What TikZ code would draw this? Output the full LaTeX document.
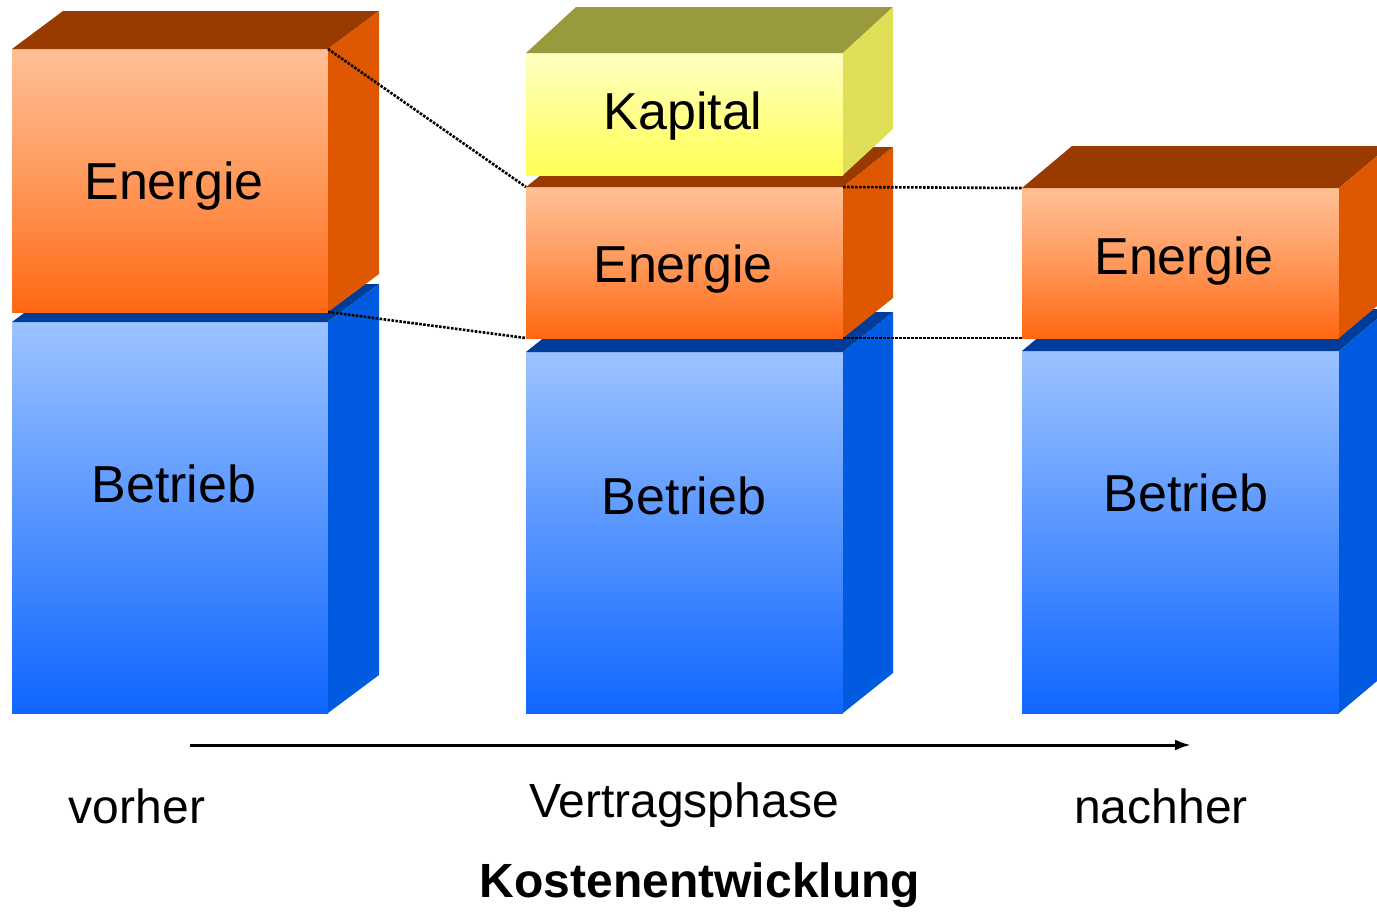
\documentclass[tikz,border=0pt]{standalone}
\usepackage{fontspec}
\setmainfont{Liberation Sans}
\usetikzlibrary{arrows.meta}
\definecolor{ortop}{HTML}{FFC096}
\definecolor{orbot}{HTML}{FF6812}
\definecolor{orlid}{HTML}{993B00}
\definecolor{orside}{HTML}{DF5700}
\definecolor{bltop}{HTML}{9CC3FF}
\definecolor{blbot}{HTML}{0F66FF}
\definecolor{bllid}{HTML}{003C99}
\definecolor{blside}{HTML}{005BE0}
\definecolor{kaptop}{HTML}{FFFFC2}
\definecolor{kapbot}{HTML}{FFFF55}
\definecolor{kaplid}{HTML}{999A3D}
\definecolor{kapside}{HTML}{E0E058}
\tikzstyle{frame}=[rectangle,inner sep=0pt,outer sep=0pt,anchor=north west]
\tikzstyle{orfront}=[top color=ortop,bottom color=orbot,middle color=ortop!55!orbot]
\tikzstyle{blfront}=[top color=bltop,bottom color=blbot]
\tikzstyle{kapfront}=[top color=kaptop,bottom color=kapbot]
\tikzstyle{boxtext}=[inner sep=0pt,anchor=base,font=\fontsize{52}{60}\selectfont]
\tikzstyle{axistext}=[inner sep=0pt,anchor=base,font=\fontsize{48}{56}\selectfont]
\tikzstyle{guide}=[line width=2.6pt,dash pattern=on 2.6pt off 1.4pt]
\tikzstyle{arrow}=[line width=3pt,-{Latex[length=16pt,width=11pt]}]

\begin{document}
\begin{tikzpicture}[x=1pt,y=-1pt]
    \clip (0,0) rectangle (1377,911);

    % front faces
    \node (b1) [frame,minimum width=316pt,minimum height=391pt] at (12,322) {};
    \node (e1) [frame,minimum width=316pt,minimum height=263pt] at (12,49) {};
    \node (b2) [frame,minimum width=317pt,minimum height=361pt] at (526,352) {};
    \node (e2) [frame,minimum width=317pt,minimum height=151pt] at (526,187) {};
    \node (k2) [frame,minimum width=317pt,minimum height=122pt] at (526,53) {};
    \node (b3) [frame,minimum width=317pt,minimum height=362pt] at (1022,351) {};
    \node (e3) [frame,minimum width=317pt,minimum height=150pt] at (1022,188) {};

    \foreach \n/\f/\l/\s/\dx/\dy in {b1/blfront/bllid/blside/51/38,
        e1/orfront/orlid/orside/51/38, b2/blfront/bllid/blside/50/40,
        e2/orfront/orlid/orside/50/40, k2/kapfront/kaplid/kapside/50/46,
        b3/blfront/bllid/blside/50/42, e3/orfront/orlid/orside/50/42} {
        \shade [\f] (\n.north west) rectangle (\n.south east);
        \fill [\l] (\n.north west) -- ++(\dx,-\dy)
            -- ([shift={(\dx,-\dy)}]\n.north east) -- (\n.north east) -- cycle;
        \fill [\s] (\n.north east) -- ([shift={(\dx,-\dy)}]\n.north east)
            -- ([shift={(\dx,-\dy)}]\n.south east) -- (\n.south east) -- cycle;
    }

    \node (tb1) [boxtext] at (174,502) {Betrieb};
    \node (te1) [boxtext] at (174,199) {Energie};
    \node (tb2) [boxtext] at (684,514) {Betrieb};
    \node (te2) [boxtext] at (683,282) {Energie};
    \node (tk2) [boxtext] at (683,129) {Kapital};
    \node (tb3) [boxtext] at (1186,511) {Betrieb};
    \node (te3) [boxtext] at (1184,274) {Energie};

    \draw [guide] (e1.north east) -- (e2.north west);
    \draw [guide] (e1.south east) -- (e2.south west);
    \draw [guide] (e2.north east) -- (e3.north west);
    \draw [guide] (e2.south east) -- (e3.south west);

    \coordinate (a0) at (190,745);
    \coordinate (a1) at (1191,745);
    \draw [arrow] (a0) -- (a1);

    \node (before) [axistext] at (137,823) {vorher};
    \node (during) [axistext] at (684,817) {Vertragsphase};
    \node (after) [axistext] at (1161,823) {nachher};
    \node (title) [axistext,font=\fontsize{48}{56}\selectfont\bfseries] at (700,897) {Kostenentwicklung};
\end{tikzpicture}
\end{document}
